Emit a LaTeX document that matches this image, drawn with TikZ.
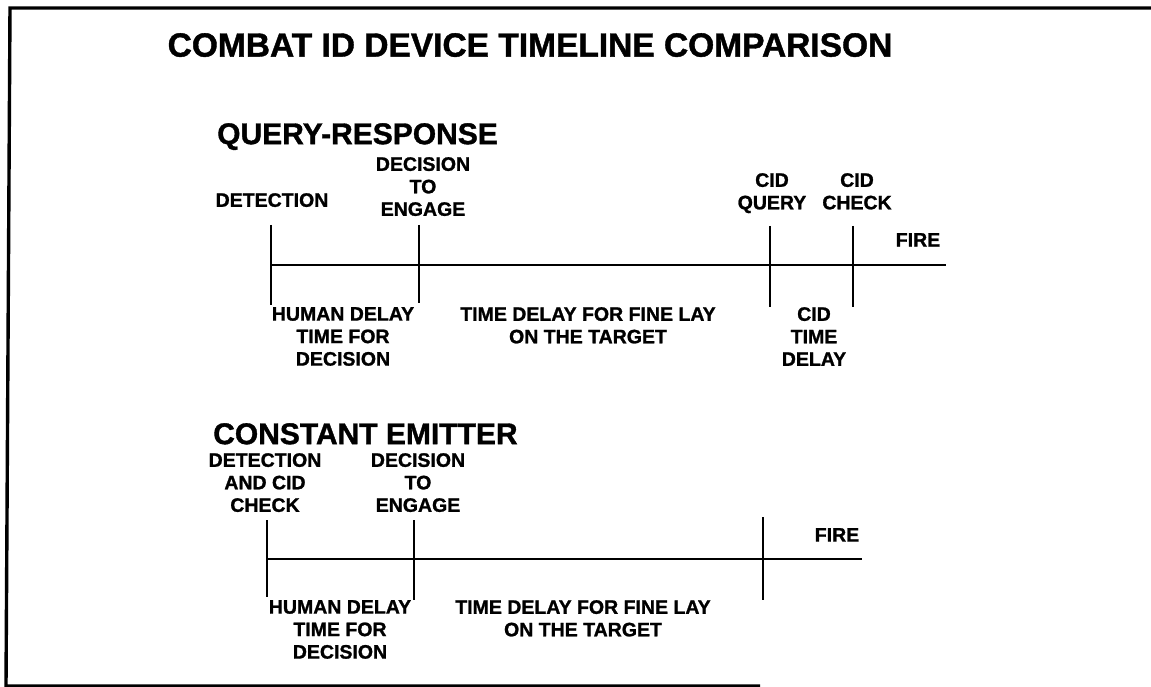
\documentclass[tikz,border=0pt]{standalone}
\usepackage{fontspec}
\setmainfont{Liberation Sans}[BoldFeatures={FakeBold=1.2}]
\usetikzlibrary{positioning}
\tikzset{%
   lbl/.style={
      font=\fontsize{19.5}{22.5}\selectfont\bfseries,
      inner sep=0pt,
      align=center,
      anchor=north
   },
   hd/.style={
      font=\fontsize{30}{33}\selectfont\bfseries,
      inner sep=0pt,
      anchor=north west
   },
   ttl/.style={
      font=\fontsize{33.5}{36}\selectfont\bfseries,
      inner sep=0pt,
      anchor=north
   },
   tline/.style={
      line width=2.4pt
   },
   frame/.style={
      line width=3.4pt
   },
}

\begin{document}
\begin{tikzpicture}[x=1pt, y=-1pt]
      \useasboundingbox (0,0) rectangle (1151,687);
      \draw[frame] (1151,8) -- (10,8) -- (6,686) -- (760,686);
      \node[ttl] (title) at (530,33) {COMBAT ID DEVICE TIMELINE COMPARISON};

      % query-response
      \node[hd] (qr) at (217,123) {QUERY-RESPONSE};
      \node[lbl] (qDet) at (272,193) {DETECTION};
      \node[lbl] (qDec) at (423,157) {DECISION\\TO\\ENGAGE};
      \node[lbl] (qQry) at (772,173) {CID\\QUERY};
      \node[lbl] (qChk) at (857,173) {CID\\CHECK};
      \node[lbl] (qFire) at (918,233) {FIRE};
      \node[lbl] (qHum) at (343,307) {HUMAN DELAY\\TIME FOR\\DECISION};
      \node[lbl] (qLay) at (588,307) {TIME DELAY FOR FINE LAY\\ON THE TARGET};
      \node[lbl] (qCid) at (814,307) {CID\\TIME\\DELAY};
      \coordinate (qA) at (271,265);
      \coordinate (qB) at (946,265);
      \coordinate (qDetT) at (271,225);
      \coordinate (qDetB) at (271,305);
      \coordinate (qDecT) at (419,225);
      \coordinate (qDecB) at (419,303);
      \coordinate (qQryT) at (770,226);
      \coordinate (qQryB) at (770,307);
      \coordinate (qChkT) at (853,226);
      \coordinate (qChkB) at (853,307);
      \draw[tline] (qA) -- (qB);
      \draw[tline] (qDetT) -- (qDetB);
      \draw[tline] (qDecT) -- (qDecB);
      \draw[tline] (qQryT) -- (qQryB);
      \draw[tline] (qChkT) -- (qChkB);

      % constant emitter
      \node[hd] (ce) at (213,423) {CONSTANT EMITTER};
      \node[lbl] (cDet) at (265,453) {DETECTION\\AND CID\\CHECK};
      \node[lbl] (cDec) at (418,453) {DECISION\\TO\\ENGAGE};
      \node[lbl] (cFire) at (837,528) {FIRE};
      \node[lbl] (cHum) at (340,600) {HUMAN DELAY\\TIME FOR\\DECISION};
      \node[lbl] (cLay) at (583,600) {TIME DELAY FOR FINE LAY\\ON THE TARGET};
      \coordinate (cA) at (267,559);
      \coordinate (cB) at (862,559);
      \coordinate (cDetT) at (267,520);
      \coordinate (cDetB) at (267,597);
      \coordinate (cDecT) at (414,520);
      \coordinate (cDecB) at (414,600);
      \coordinate (cEndT) at (763,517);
      \coordinate (cEndB) at (763,600);
      \draw[tline] (cA) -- (cB);
      \draw[tline] (cDetT) -- (cDetB);
      \draw[tline] (cDecT) -- (cDecB);
      \draw[tline] (cEndT) -- (cEndB);
   \end{tikzpicture}
\end{document}
